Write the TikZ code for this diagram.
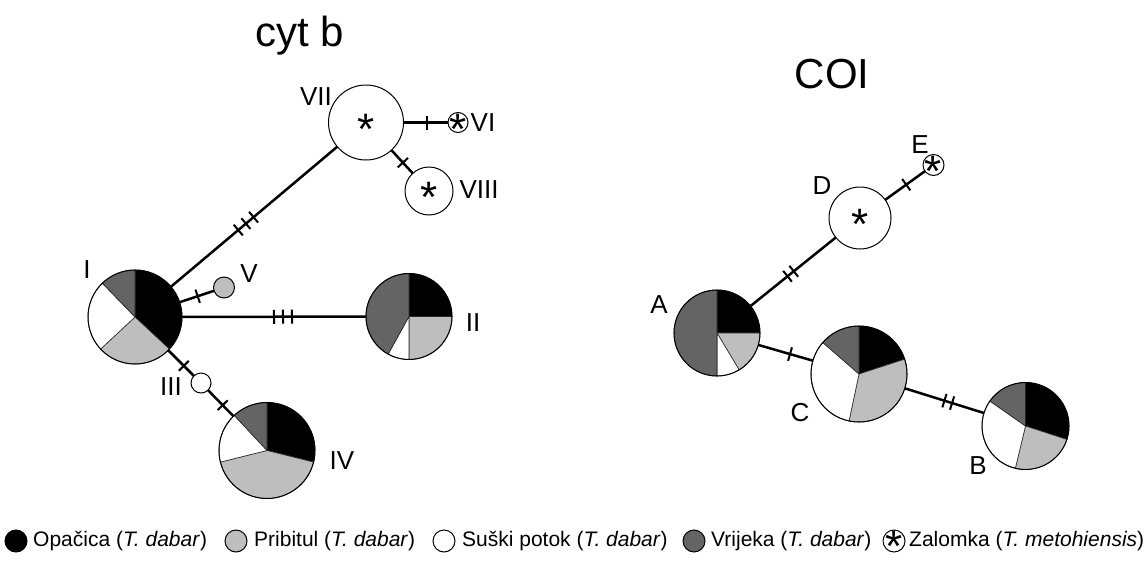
\documentclass[tikz,border=0pt]{standalone}
\usepackage{fontspec}
\setmainfont{Liberation Sans}
\usetikzlibrary{decorations.markings}
\definecolor{lgc}{HTML}{BEBEBE}
\definecolor{dgc}{HTML}{646464}
\newcommand{\slc}[5]{\filldraw[fill=#5, draw=black!85, line width=0.6pt] (#1) -- ++({-(#3)}:#2) arc[start angle={-(#3)}, end angle={-(#4)}, radius=#2] -- cycle;}
\newcommand{\tk}{{\draw[line width=2pt] (0pt,-7pt) -- (0pt,7pt);}}
\newcommand{\astk}{\raisebox{-0.49em}[0.3em][0.3em]{*}}
\newcommand{\astl}{\raisebox{-0.47em}[0.3em][0.3em]{*}}
\begin{document}
\begin{tikzpicture}[x=1pt,y=-1pt,
  edge/.style={line width=2.5pt},
  hap/.style={circle, inner sep=0pt, outer sep=0pt, minimum size=#1},
  outl/.style={draw=black, line width=1pt},
  lab/.style={font=\fontsize{26}{30}\selectfont, inner sep=0pt},
  astx/.style={font=\fontsize{44}{44}\selectfont, inner sep=0pt},
  marks/.style={postaction={decorate,decoration={markings,#1}}},
  legc/.style={circle, draw=black, line width=1pt, minimum size=22, inner sep=0pt},
  legt/.style={font=\fontsize{21}{25}\selectfont, inner sep=0pt, anchor=west},
  ttl/.style={font=\fontsize{42}{48}\selectfont, anchor=base, inner sep=0pt}
]
\useasboundingbox (0,0) rectangle (1148,562);
\fill[white] (0,0) rectangle (1148,562);

% titles
\node[ttl] (T1) at (300,46) {cyt b};
\node[ttl] (T2) at (832,88) {COI};

% haplotype nodes, cyt b
\node[hap=94] (I) at (135,317) {};
\node[hap=86] (II) at (409,316.5) {};
\node[hap=20] (III) at (201,383) {};
\node[hap=96] (IV) at (267,450.5) {};
\node[hap=21] (V) at (224,287.5) {};
\node[hap=20] (VI) at (458,122.5) {};
\node[hap=75] (VII) at (366,122.5) {};
\node[hap=48] (VIII) at (429,191) {};
% COI
\node[hap=86] (A) at (717,333) {};
\node[hap=87] (B) at (1025.5,426) {};
\node[hap=96] (C) at (859,374) {};
\node[hap=62] (D) at (860,218) {};
\node[hap=21] (E) at (933.5,165) {};

% connectors
\draw[edge, marks={mark=at position 88pt with \tk, mark=at position 98pt with \tk, mark=at position 108pt with \tk}] (I) -- (VII);
\draw[edge, marks={mark=at position 92pt with \tk, mark=at position 101pt with \tk, mark=at position 110pt with \tk}] (I) -- (II);
\draw[edge, marks={mark=at position 19pt with \tk}] (I) -- (V);
\draw[edge, marks={mark=at position 22pt with \tk}] (I) -- (III);
\draw[edge, marks={mark=at position 21pt with \tk}] (III) -- (IV);
\draw[edge, marks={mark=at position 23pt with \tk}] (VII) -- (VI);
\draw[edge, marks={mark=at position 17pt with \tk}] (VII) -- (VIII);
\draw[edge, marks={mark=at position 47.5pt with \tk, mark=at position 55.5pt with \tk}] (A) -- (D);
\draw[edge, marks={mark=at position 26pt with \tk}] (D) -- (E);
\draw[edge, marks={mark=at position 33pt with \tk}] (A) -- (C);
\draw[edge, marks={mark=at position 41.5pt with \tk, mark=at position 49.5pt with \tk}] (C) -- (B);

% pies
\slc{I.center}{47}{90}{-43}{black}
\slc{I.center}{47}{-43}{-137}{lgc}
\slc{I.center}{47}{-137}{-226}{white}
\slc{I.center}{47}{-226}{-270}{dgc}
\draw[outl] (I.center) circle[radius=47];

\slc{II.center}{43}{90}{0}{black}
\slc{II.center}{43}{0}{-90}{lgc}
\slc{II.center}{43}{-90}{-119}{white}
\slc{II.center}{43}{-119}{-270}{dgc}
\draw[outl] (II.center) circle[radius=43];

\slc{IV.center}{48}{90}{-14}{black}
\slc{IV.center}{48}{-14}{-166}{lgc}
\slc{IV.center}{48}{-166}{-227}{white}
\slc{IV.center}{48}{-227}{-270}{dgc}
\draw[outl] (IV.center) circle[radius=48];

\slc{A.center}{43}{90}{0}{black}
\slc{A.center}{43}{0}{-59}{lgc}
\slc{A.center}{43}{-59}{-90}{white}
\slc{A.center}{43}{-90}{-270}{dgc}
\draw[outl] (A.center) circle[radius=43];

\slc{C.center}{48}{90}{18}{black}
\slc{C.center}{48}{18}{-102}{lgc}
\slc{C.center}{48}{-102}{-221}{white}
\slc{C.center}{48}{-221}{-270}{dgc}
\draw[outl] (C.center) circle[radius=48];

\slc{B.center}{43.5}{90}{-18}{black}
\slc{B.center}{43.5}{-18}{-103.5}{lgc}
\slc{B.center}{43.5}{-103.5}{-215}{white}
\slc{B.center}{43.5}{-215}{-270}{dgc}
\draw[outl] (B.center) circle[radius=43.5];

% single-colour haplotypes
\filldraw[outl, fill=lgc] (V.center) circle[radius=10.5];
\filldraw[outl, fill=white] (III.center) circle[radius=10];
\filldraw[outl, fill=white] (VI.center) circle[radius=10];
\filldraw[outl, fill=white] (VII.center) circle[radius=37.5];
\filldraw[outl, fill=white] (VIII.center) circle[radius=24];
\filldraw[outl, fill=white] (D.center) circle[radius=31];
\filldraw[outl, fill=white] (E.center) circle[radius=10.5];
\node[astx] (sVI) at (VI.center) {\astk};
\node[astx] (sVII) at (VII.center) {\astk};
\node[astx] (sVIII) at (VIII.center) {\astk};
\node[astx] (sD) at (D.center) {\astk};
\node[astx] (sE) at (E.center) {\astk};

% labels
\node[lab] (lI) at (87,270) {I};
\node[lab] (lII) at (473,323) {II};
\node[lab] (lIII) at (171,387) {III};
\node[lab] (lIV) at (342,461) {IV};
\node[lab] (lV) at (249,274) {V};
\node[lab] (lVI) at (483,122.5) {VI};
\node[lab] (lVII) at (316,97) {VII};
\node[lab] (lVIII) at (479,190) {VIII};
\node[lab] (lA) at (659,305) {A};
\node[lab] (lB) at (978,466) {B};
\node[lab] (lC) at (800,413) {C};
\node[lab] (lD) at (822,186) {D};
\node[lab] (lE) at (920,145) {E};

% legend
\node[legc, fill=black] (g1) at (16,541) {};
\node[legt] (h1) at (33,541) {Opačica (\textit{T. dabar})};
\node[legc, fill=lgc] (g2) at (236,541) {};
\node[legt] (h2) at (254,541) {Pribitul (\textit{T. dabar})};
\node[legc, fill=white] (g3) at (444,541) {};
\node[legt] (h3) at (462,541) {Suški potok (\textit{T. dabar})};
\node[legc, fill=dgc] (g4) at (694,541) {};
\node[legt] (h4) at (711,541) {Vrijeka (\textit{T. dabar})};
\node[legc, fill=white] (g5) at (894,541) {};
\node[astx] (s5) at (g5.center) {\astl};
\node[legt] (h5) at (909,541) {Zalomka (\textit{T. metohiensis})};
\end{tikzpicture}
\end{document}
